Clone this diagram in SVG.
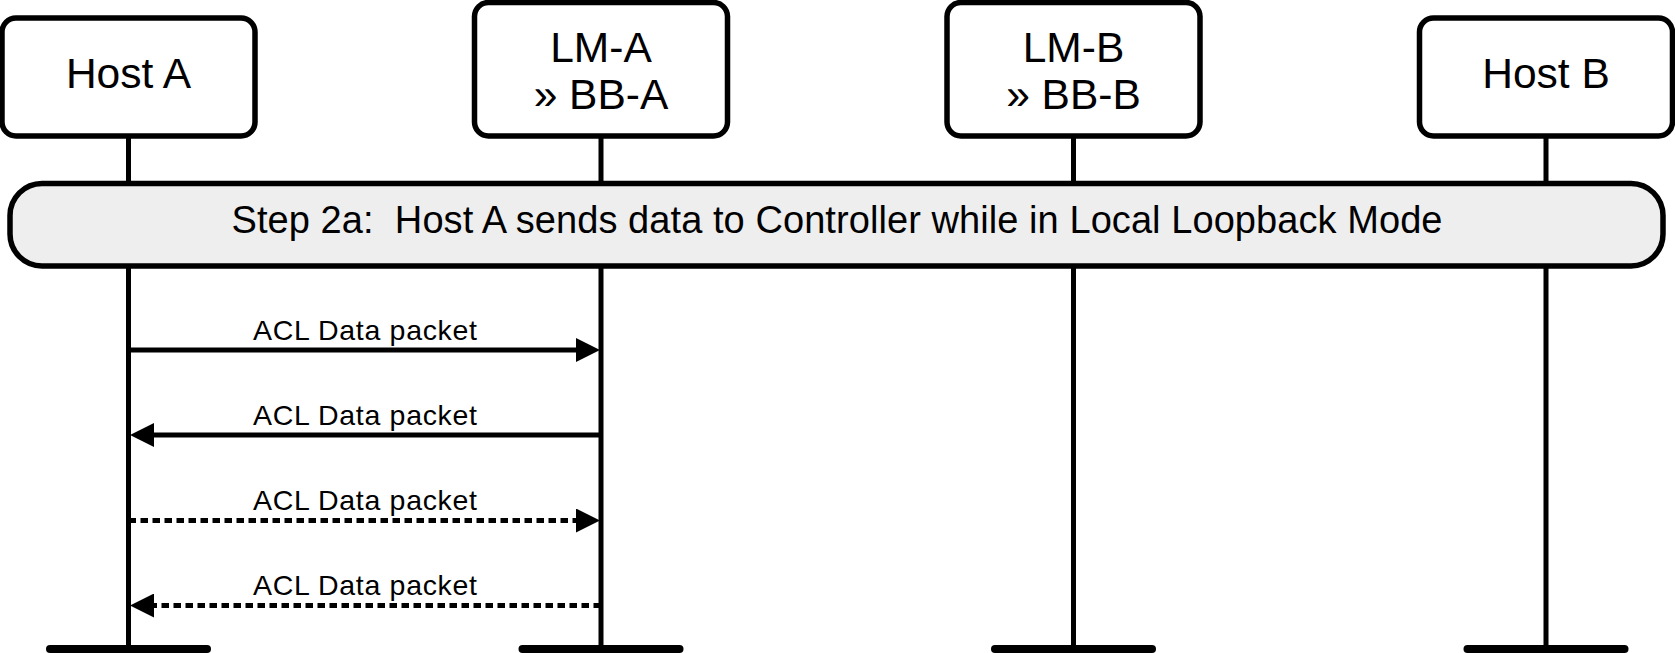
<svg xmlns="http://www.w3.org/2000/svg" width="1675" height="653" viewBox="0 0 1675 653">
<style>
.box{fill:#ffffff;stroke:#000;stroke-width:5.5}
.step{fill:#eeeeee;stroke:#000;stroke-width:5.5}
.life{stroke:#000;stroke-width:5;fill:none}
.bar{stroke:#000;stroke-width:8;stroke-linecap:round}
.node{font-family:"Liberation Sans",Arial,sans-serif;font-size:42.5px;fill:#000;text-anchor:middle}
.steptxt{font-family:"Liberation Sans",Arial,sans-serif;font-size:38px;fill:#000;text-anchor:middle;white-space:pre}
.lbl{font-family:"Liberation Sans",Arial,sans-serif;font-size:28.5px;fill:#000;text-anchor:middle}
.msg{stroke:#000;stroke-width:5;fill:none}
.dash{stroke-dasharray:7.5 4.5}
</style>
<defs>
<marker id="ah" markerUnits="userSpaceOnUse" markerWidth="24" markerHeight="24" refX="0" refY="12" orient="auto">
<path d="M0,0 L24,12 L0,24 z" fill="#000"/>
</marker>
</defs>
<g id="lifelines">
<line class="life" x1="128.5" y1="136" x2="128.5" y2="649"/>
<line class="life" x1="601" y1="136" x2="601" y2="649"/>
<line class="life" x1="1073.5" y1="136" x2="1073.5" y2="649"/>
<line class="life" x1="1546" y1="136" x2="1546" y2="649"/>
<line class="bar" x1="50" y1="649" x2="207" y2="649"/>
<line class="bar" x1="522.5" y1="649" x2="679.5" y2="649"/>
<line class="bar" x1="995" y1="649" x2="1152" y2="649"/>
<line class="bar" x1="1467.5" y1="649" x2="1624.5" y2="649"/>
</g>
<g id="hostA">
<rect class="box" x="2" y="18" width="253" height="118" rx="14"/>
<text class="node" x="128.5" y="88">Host A</text>
</g>
<g id="lmA">
<rect class="box" x="474.5" y="2.5" width="253" height="133.5" rx="14"/>
<text class="node" x="601" y="62">LM-A</text>
<text class="node" x="601" y="109">» BB-A</text>
</g>
<g id="lmB">
<rect class="box" x="947" y="2.5" width="253" height="133.5" rx="14"/>
<text class="node" x="1073.5" y="62">LM-B</text>
<text class="node" x="1073.5" y="109">» BB-B</text>
</g>
<g id="hostB">
<rect class="box" x="1419.5" y="18" width="253" height="118" rx="14"/>
<text class="node" x="1546" y="88">Host B</text>
</g>
<g id="step2a">
<rect class="step" x="10" y="183.5" width="1653" height="82.5" rx="32"/>
<text class="steptxt" x="837" y="233" xml:space="preserve" textLength="1211" lengthAdjust="spacing">Step 2a:  Host A sends data to Controller while in Local Loopback Mode</text>
</g>
<g id="connectors">
<line class="msg" x1="128.5" y1="350" x2="576" y2="350" marker-end="url(#ah)"/>
<text class="lbl" x="365" y="339.5" textLength="224" lengthAdjust="spacing">ACL Data packet</text>
<line class="msg" x1="601" y1="435" x2="154" y2="435" marker-end="url(#ah)"/>
<text class="lbl" x="365" y="424.5" textLength="224" lengthAdjust="spacing">ACL Data packet</text>
<line class="msg dash" x1="128.5" y1="520.5" x2="576" y2="520.5" marker-end="url(#ah)"/>
<text class="lbl" x="365" y="510" textLength="224" lengthAdjust="spacing">ACL Data packet</text>
<line class="msg dash" x1="601" y1="605.5" x2="154" y2="605.5" marker-end="url(#ah)"/>
<text class="lbl" x="365" y="595" textLength="224" lengthAdjust="spacing">ACL Data packet</text>
</g>
</svg>
